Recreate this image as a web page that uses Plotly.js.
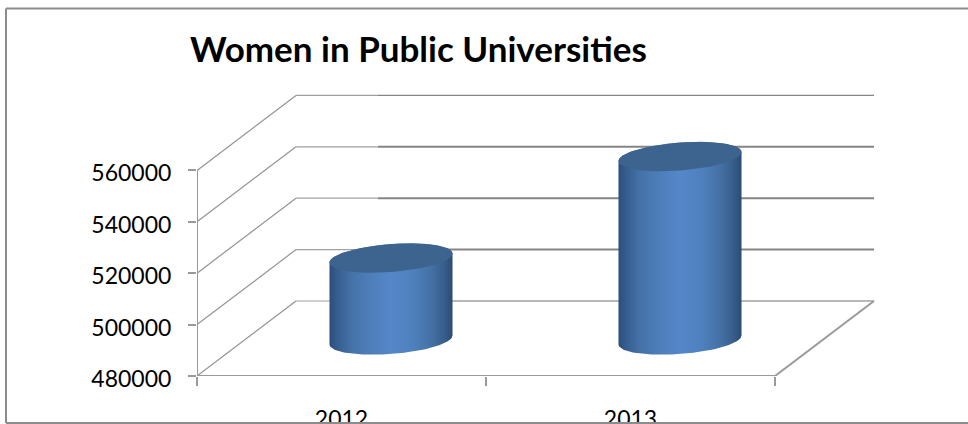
<!DOCTYPE html>
<html>
<head>
<meta charset="utf-8">
<script src="https://cdn.plot.ly/plotly-3.0.1.min.js"></script>
<style>html,body{margin:0;padding:0;background:#fff}#chart{width:968px;height:424px}#chart text{font-variant-ligatures:none}</style>
</head>
<body>
<div id="chart"></div>
<script>
// Enrolment figures
const categories = ["2012", "2013"];
const enrolment = [511300, 550800];
const valueTicks = [480000, 500000, 520000, 540000, 560000];
const chartTitle = "Women in Public Universities";

// Pixel scale of the plot: one category is 289 px wide, 20000 is 51.4 px high
const PX_PER_CATEGORY = 289;
const PX_PER_VALUE = 51.4 / 20000;
const PLOT = {l: 197, r: 88, t: 90, b: 48};
const W = 968, H = 424;
const plotW = W - PLOT.l - PLOT.r, plotH = H - PLOT.t - PLOT.b;
const xMax = plotW / PX_PER_CATEGORY;
const yMin = valueTicks[0];
const yMax = yMin + plotH / PX_PER_VALUE;

const px2x = p => p / PX_PER_CATEGORY;
const px2y = p => p / PX_PER_VALUE;

// Paper coordinates for page-level furniture
const paperX = p => (p - PLOT.l) / plotW;
const paperY = p => (H - PLOT.b - p) / plotH;

// Oblique projection of the chart's depth axis
const depthX = px2x(99), depthY = px2y(75);

const GRID = "#8a8a8a";
const traces = [];

function line(xs, ys, width, color) {
  traces.push({
    type: "scatter", mode: "lines", x: xs, y: ys, hoverinfo: "skip",
    showlegend: false, cliponaxis: false,
    line: {color: color || GRID, width: width, simplify: false}
  });
}

// Walls and floor
const seam = px2x(181);
const wallEnd = categories.length + depthX;
valueTicks.forEach((v, i) => {
  line([0, depthX], [v, v + depthY], 1.2, "#939393");
  line([depthX, seam], [v + depthY, v + depthY], 1.2, "#a0a0a0");
  line([seam, wallEnd], [v + depthY, v + depthY], (i === 0 || i === 4) ? 1.4 : 2, i === 0 ? "#a0a0a0" : "#858585");
});
line([0, 0], [valueTicks[0], valueTicks[4]], 2, "#9a9a9a");
line([0, categories.length], [yMin, yMin], 2, "#9a9a9a");
line([categories.length, wallEnd], [yMin, yMin + depthY], 2, "#9a9a9a");

// Cylinders sit halfway along the depth axis
const radiusX = px2x(61.5);
const radiusY = px2y(14);
const tilt = px2y(4.5);
const baseDrop = px2y(1.5);
const STEPS = 72;

function rim(cx, cy, from, to) {
  const xs = [], ys = [];
  for (let k = 0; k <= STEPS; k++) {
    const t = from + (to - from) * k / STEPS;
    xs.push(cx + radiusX * Math.cos(t));
    ys.push(cy + radiusY * Math.sin(t) + tilt * Math.cos(t));
  }
  return {xs, ys};
}

const bodyScale = [
  [0, "#2c4d78"], [0.06, "#365d8f"], [0.18, "#4572a8"], [0.32, "#4d7db9"],
  [0.5, "#5587c9"], [0.68, "#4f80bd"], [0.82, "#4572a6"], [0.94, "#375c8a"], [1, "#2b4b72"]
];

enrolment.forEach((value, i) => {
  const cx = i + 0.5 + depthX / 2;
  const base = yMin + depthY / 2 - baseDrop;
  const top = value + depthY / 2;
  const lower = rim(cx, base, 0, -Math.PI);
  const upper = rim(cx, top, Math.PI, 0);
  traces.push({
    type: "scatter", mode: "lines", name: categories[i], showlegend: false,
    x: lower.xs.concat(upper.xs), y: lower.ys.concat(upper.ys),
    fill: "toself", line: {width: 0}, hoverinfo: "skip",
    fillgradient: {type: "horizontal", colorscale: bodyScale, start: cx - radiusX, stop: cx + radiusX}
  });
  const cap = rim(cx, top, 0, 2 * Math.PI);
  traces.push({
    type: "scatter", mode: "lines", showlegend: false, x: cap.xs, y: cap.ys,
    fill: "toself", fillcolor: "#3d638f", line: {width: 0}, hoverinfo: "skip"
  });
});

const labelFont = {family: "Lato, 'Open Sans', sans-serif", size: 23, color: "#000"};

const frame = {color: "#8c8c8c", width: 2};
const edge = (x0, y0, x1, y1) => ({
  type: "line", xref: "paper", yref: "paper", layer: "above", line: frame,
  x0: paperX(x0), y0: paperY(y0), x1: paperX(x1), y1: paperY(y1)
});

const layout = {
  width: W, height: H,
  paper_bgcolor: "#fff", plot_bgcolor: "rgba(0,0,0,0)",
  margin: {l: PLOT.l, r: PLOT.r, t: PLOT.t, b: PLOT.b, pad: 0, autoexpand: false},
  showlegend: false,
  title: {
    text: "<b>" + chartTitle + "</b>", x: 190 / W, xanchor: "left", xref: "container",
    y: 1 - 50 / H, yanchor: "middle", yref: "container",
    font: {family: "Lato, 'Open Sans', sans-serif", size: 35, color: "#000"}
  },
  xaxis: {
    range: [0, xMax], showgrid: false, zeroline: false, showline: false,
    tickmode: "array", tickvals: [0.5, 1.5], ticktext: categories,
    ticks: "", ticklabelstandoff: 27, tickfont: labelFont,
    minor: {tickmode: "array", tickvals: [0, 1, 2], ticks: "outside", ticklen: 9, tickwidth: 2, tickcolor: "#9a9a9a", showgrid: false},
    fixedrange: true
  },
  yaxis: {
    range: [yMin, yMax], showgrid: false, zeroline: false, showline: false,
    tickmode: "array", tickvals: valueTicks, ticktext: valueTicks.map(String),
    ticks: "outside", ticklen: 8, tickwidth: 2, tickcolor: "#9a9a9a",
    ticklabelstandoff: 12, ticklabelshift: 3, tickfont: labelFont, fixedrange: true
  },
  // Outer frame: open on the right, with its lower edge over the category labels
  shapes: [edge(6, 8.5, 6, 423), edge(6, 8.5, W, 8.5), edge(6, 423, W, 423)]
};

Plotly.newPlot("chart", traces, layout, {displayModeBar: false, staticPlot: true});
</script>
</body>
</html>
